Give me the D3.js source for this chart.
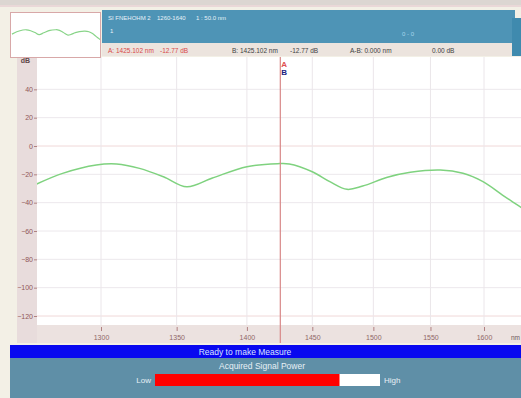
<!DOCTYPE html>
<html><head><meta charset="utf-8">
<script src="https://cdn.jsdelivr.net/npm/d3@7"></script>
<style>html,body{margin:0;padding:0;background:#f3f0e6;}svg{display:block;font-family:"Liberation Sans",Arial,sans-serif;}</style>
</head><body>
<svg id="c" width="521" height="398"></svg>
<script>
// ---- data ----
const wavelengths = [1260, 1276, 1297, 1310, 1325, 1341, 1357, 1375, 1400, 1423, 1432, 1450, 1464, 1478, 1491, 1512, 1532, 1559, 1580, 1599, 1618, 1630, 1640];
const powerDb     = [-27, -19.3, -13.4, -12.7, -15.8, -21.7, -28.8, -22.6, -14.6, -12.5, -12.7, -18.2, -25.2, -30.6, -28.3, -22.1, -18.6, -17.0, -19.3, -25.2, -34.6, -40.3, -45];
const xTicks = [1300, 1350, 1400, 1450, 1500, 1550, 1600];
const yTicks = [40, 20, 0, -20, -40, -60, -80, -100, -120];
const markerWl = 1425.102;
const headerTop = ["SI FNEHOHM 2", "1260-1640", "1 : 50.0 nm"];
const markerTexts = ["A: 1425.102 nm", "-12.77 dB", "B: 1425.102 nm", "-12.77 dB", "A-B: 0.000 nm", "0.00 dB"];
const signalLevel = 0.82; // fraction of the bar filled

const svg = d3.select("#c");
const L = 37, R = 521, T = 57, B = 325;

// x is linear in optical frequency (1/λ)
const fx = d3.scaleLinear().domain([1/1300, 1/1600]).range([101, 484]);
const x = wl => fx(1/wl);
const y = d3.scaleLinear().domain([0, -120]).range([146, 316]);

// background pieces
svg.append("rect").attr("x",0).attr("y",0).attr("width",521).attr("height",5).attr("fill","#dcd6d2");
svg.append("rect").attr("x",0).attr("y",5).attr("width",521).attr("height",2).attr("fill","#ead8d8");
// left strip
svg.append("rect").attr("x",17).attr("y",T).attr("width",L-17).attr("height",B-T+18).attr("fill","#e8dcdc");
// plot area
svg.append("rect").attr("x",L).attr("y",T).attr("width",R-L).attr("height",B-T).attr("fill","#ffffff");
// x-axis strip
svg.append("rect").attr("x",L).attr("y",B).attr("width",R-L).attr("height",18).attr("fill","#ece2e0");

// grid
const g = svg.append("g");
g.selectAll("line.h").data(yTicks).join("line")
  .attr("x1",L).attr("x2",R).attr("y1",d=>y(d)).attr("y2",d=>y(d))
  .attr("stroke",d=>d===0||d===-120?"#f0d8d8":"#ece8ec").attr("stroke-width",1);
g.selectAll("line.v").data(xTicks).join("line")
  .attr("x1",d=>x(d)).attr("x2",d=>x(d)).attr("y1",T).attr("y2",B)
  .attr("stroke","#ebe6ea").attr("stroke-width",1);

// y axis
const yAxis = d3.axisLeft(y).tickValues(yTicks).tickSize(3).tickFormat(d3.format("d"));
const ya = svg.append("g").attr("transform",`translate(${L},0)`).call(yAxis);
ya.select(".domain").remove();
ya.selectAll("line").attr("stroke","#b08080");
ya.selectAll("text").attr("fill","#905858").attr("font-size",7).attr("x",-4);
svg.append("text").attr("x",30).attr("y",63).attr("text-anchor","end").attr("font-size",7).attr("fill","#604848").attr("font-weight","bold").text("dB");

// x axis
const xAxis = d3.axisBottom(fx).tickValues(xTicks.map(v=>1/v)).tickSize(4).tickFormat(d=>Math.round(1/d));
const xa = svg.append("g").attr("transform",`translate(0,${B+2})`).call(xAxis);
xa.select(".domain").remove();
xa.selectAll("line").attr("stroke","#b08080");
xa.selectAll("text").attr("fill","#906868").attr("font-size",7).attr("dy","0.9em");
svg.append("text").attr("x",520).attr("y",340).attr("text-anchor","end").attr("font-size",6.5).attr("fill","#705858").text("nm");

// trace
const line = d3.line().x((d,i)=>x(wavelengths[i])).y(d=>y(d)).curve(d3.curveCatmullRom.alpha(0.5));
svg.append("clipPath").attr("id","pc").append("rect").attr("x",L).attr("y",T).attr("width",R-L).attr("height",B-T);
svg.append("path").datum(powerDb).attr("d",line).attr("fill","none")
  .attr("stroke","#7fd27f").attr("stroke-width",1.5).attr("clip-path","url(#pc)");

// marker
const mx = x(markerWl);
svg.append("line").attr("x1",mx).attr("x2",mx).attr("y1",T).attr("y2",B+18).attr("stroke","#d88888").attr("stroke-width",1.2);
svg.append("text").attr("x",mx+1).attr("y",67).attr("font-size",8).attr("font-weight","bold").attr("fill","#e05050").text("A");
svg.append("text").attr("x",mx+1).attr("y",75).attr("font-size",8).attr("font-weight","bold").attr("fill","#202080").text("B");

// thumbnail
svg.append("rect").attr("x",10.5).attr("y",12.5).attr("width",90).attr("height",45).attr("fill","#ffffff").attr("stroke","#d8a8a8");
const tx = d3.scaleLinear().domain([1/1260, 1/1640]).range([12, 100]);
const ty = d3.scaleLinear().domain([0, -60]).range([26, 44]);
svg.append("path").datum(powerDb)
  .attr("d", d3.line().x((d,i)=>tx(1/wavelengths[i])).y(d=>ty(d)).curve(d3.curveCatmullRom))
  .attr("fill","none").attr("stroke","#88d488").attr("stroke-width",1.2);

// header panel
svg.append("rect").attr("x",102).attr("y",10).attr("width",413).attr("height",33).attr("fill","#4e94b6");
svg.append("rect").attr("x",102).attr("y",43).attr("width",413).attr("height",13).attr("fill","#ece4de");
svg.append("rect").attr("x",512).attr("y",18).attr("width",9).attr("height",38).attr("fill","#3f8aae");
svg.selectAll("text.ht").data(headerTop).join("text").attr("x",(d,i)=>[108,157,196][i]).attr("y",20)
  .attr("font-size",6).attr("fill","#e8f2f8").text(d=>d);
svg.append("text").attr("x",110).attr("y",33).attr("font-size",6).attr("fill","#e8f2f8").text("1");
svg.append("text").attr("x",402).attr("y",36).attr("font-size",6).attr("fill","#a8d4ec").text("0 - 0");
const mtx = [108, 160, 232, 290, 350, 432];
const mtc = ["#d84848","#d84848","#404040","#404040","#404040","#404040"];
svg.selectAll("text.mt").data(markerTexts).join("text").attr("x",(d,i)=>mtx[i]).attr("y",53)
  .attr("font-size",6.5).attr("fill",(d,i)=>mtc[i]).text(d=>d);

// status bar
svg.append("rect").attr("x",10).attr("y",345).attr("width",511).attr("height",13).attr("fill","#0808f0");
svg.append("text").attr("x",245).attr("y",355).attr("text-anchor","middle").attr("font-size",8.5).attr("fill","#dce4ff").text("Ready to make Measure");
svg.append("rect").attr("x",10).attr("y",358).attr("width",511).attr("height",40).attr("fill","#5f8fa7");
svg.append("text").attr("x",262).attr("y",369).attr("text-anchor","middle").attr("font-size",8.5).attr("fill","#e8f0f6").text("Acquired Signal Power");
const sx = d3.scaleLinear().domain([0,1]).range([155,380]);
svg.append("rect").attr("x",sx(0)).attr("y",374).attr("width",sx(1)-sx(0)).attr("height",12).attr("fill","#ffffff");
svg.append("rect").attr("x",sx(0)).attr("y",374).attr("width",sx(signalLevel)-sx(0)).attr("height",12).attr("fill","#ff0000");
svg.append("text").attr("x",151).attr("y",383).attr("text-anchor","end").attr("font-size",8).attr("fill","#e8f0f6").text("Low");
svg.append("text").attr("x",384).attr("y",383).attr("font-size",8).attr("fill","#e8f0f6").text("High");
</script>
</body></html>
